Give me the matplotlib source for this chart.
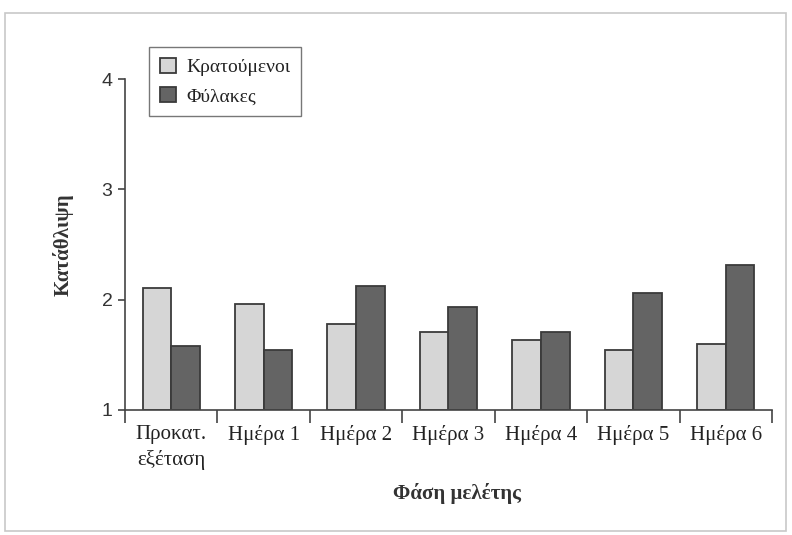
import numpy as np
import matplotlib.pyplot as plt
from matplotlib.patches import Rectangle

# δεδομένα
categories = ["Προκατ.\nεξέταση", "Ημέρα 1", "Ημέρα 2", "Ημέρα 3", "Ημέρα 4", "Ημέρα 5", "Ημέρα 6"]
prisoners = [2.11, 1.96, 1.78, 1.71, 1.63, 1.54, 1.60]
guards = [1.58, 1.54, 2.12, 1.93, 1.71, 2.06, 2.31]
series_names = ["Κρατούμενοι", "Φύλακες"]
y_ticks = [1, 2, 3, 4]

LIGHT = "#d6d6d6"
DARK = "#646464"
EDGE = "#3a3a3a"

fig = plt.figure(figsize=(7.92, 5.35), dpi=100)
ax = fig.add_axes([125 / 792, 1 - 410 / 535, (772 - 125) / 792, (410 - 79) / 535])

# πλαίσιο γύρω από το σχήμα
fig.patches.append(Rectangle((5 / 792, 4 / 535), 781 / 792, 518 / 535,
                             transform=fig.transFigure, fill=False,
                             edgecolor="#c8c8c8", linewidth=1.2))

x = np.arange(len(categories))
w = 0.31
ax.bar(x - w / 2, np.array(prisoners) - 1, w, bottom=1, color=LIGHT,
       edgecolor=EDGE, linewidth=1.3, label=series_names[0])
ax.bar(x + w / 2, np.array(guards) - 1, w, bottom=1, color=DARK,
       edgecolor=EDGE, linewidth=1.3, label=series_names[1])

ax.set_xlim(-0.5, len(categories) - 0.5)
ax.set_ylim(1, 4)

for s in ["top", "right"]:
    ax.spines[s].set_visible(False)
ax.spines["left"].set_color("#444444")
ax.spines["bottom"].set_color("#444444")
ax.spines["left"].set_linewidth(1.2)
ax.spines["bottom"].set_linewidth(1.2)

ax.set_yticks(y_ticks)
ax.set_yticklabels([str(t) for t in y_ticks], fontfamily="Liberation Sans",
                   fontsize=14, color="#333333")
ax.tick_params(axis="y", length=5, width=1.2, color="#444444", pad=4)

# διαχωριστικά κατηγοριών στον άξονα x
ax.set_xticks(np.arange(len(categories) + 1) - 0.5)
ax.set_xticklabels([])
ax.tick_params(axis="x", which="major", length=9, width=1.2, color="#444444")
ax.set_xticks(x, minor=True)
ax.set_xticklabels(categories, minor=True, fontfamily="Liberation Serif",
                   fontsize=15, color="#222222", linespacing=1.35, va="top")
ax.tick_params(axis="x", which="minor", length=0, pad=11)

ax.set_ylabel("Κατάθλιψη", fontfamily="Liberation Serif", fontweight="bold",
              fontsize=15, color="#333333", labelpad=20)
fig.text(457 / 792, 1 - 493 / 535, "Φάση μελέτης", fontfamily="Liberation Serif",
         fontweight="bold", fontsize=15, color="#333333", ha="center", va="center")

leg = ax.legend(loc="upper left", bbox_to_anchor=((149 - 125) / 647, 1 + (79 - 47) / 331),
                prop={"family": "Liberation Serif", "size": 14}, frameon=True,
                fancybox=False, handlelength=0.85, handleheight=0.85,
                handletextpad=0.5, borderpad=0.55, labelspacing=0.55,
                borderaxespad=0)
leg.get_frame().set_edgecolor("#555555")
leg.get_frame().set_linewidth(1.0)
for t in leg.get_texts():
    t.set_color("#222222")

plt.savefig("out.png", dpi=100)
plt.close()
